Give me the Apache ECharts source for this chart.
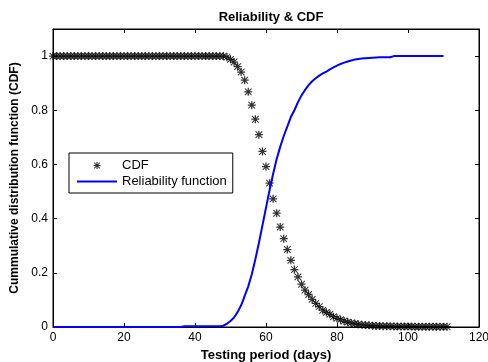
<!DOCTYPE html>
<html><head><meta charset="utf-8">
<script src="https://cdn.jsdelivr.net/npm/echarts@6/dist/echarts.min.js"></script>
<style>html,body{margin:0;padding:0;background:#fff}#c{width:488px;height:362px}</style>
</head><body><div id="c"></div>
<script>
// Star markers ("CDF" series), one per day 0..111
var cdfX = [];
for (var i = 0; i <= 111; i++) cdfX.push(i);
var cdfY = [
 1,1,1,1,1,1,1,1,1,1, 1,1,1,1,1,1,1,1,1,1,
 1,1,1,1,1,1,1,1,1,1, 1,1,1,1,1,1,1,1,1,1,
 1,1,1,1,1,1,1,1,1,0.996,
 0.988,0.978,0.961,0.941,0.911,0.868,0.819,0.767,0.71,0.648,
 0.592,0.531,0.473,0.42,0.369,0.326,0.286,0.246,0.212,0.185,
 0.158,0.136,0.12,0.102,0.087,0.075,0.062,0.054,0.047,0.038,
 0.032,0.027,0.022,0.018,0.015,0.012,0.01,0.008,0.007,0.006,
 0.005,0.004,0.004,0.003,0.003,0.003,0.002,0.002,0.002,0.002,
 0.002,0.002,0.001,0.001,0.001,0.001,0.001,0.001,0.001,0.001,
 0.001,0.001
];
// Reliability function line, one vertex per day 0..110
var relX = [];
for (var j = 0; j <= 110; j++) relX.push(j);
var relY = [
 0,0,0,0,0,0,0,0,0,0, 0,0,0,0,0,0,0,0,0,0,
 0,0,0,0,0,0,0,0,0,0, 0,0,0,0,0,0,0,0.003,0.003,0.003,
 0.003,0.003,0.003,0.003,0.003,0.003,0.003,0.003,0.005,0.012,
 0.022,0.035,0.055,0.08,0.115,0.15,0.195,0.25,0.31,0.375,
 0.44,0.505,0.565,0.62,0.665,0.705,0.74,0.775,0.80,0.83,
 0.855,0.875,0.893,0.907,0.918,0.928,0.936,0.943,0.951,0.958,
 0.965,0.971,0.976,0.98,0.984,0.987,0.989,0.991,0.992,0.993,
 0.994,0.995,0.996,0.996,0.996,0.996,1,1,1,1,
 1,1,1,1,1,1,1,1,1,1,
 1
];
var xTicks = [0,20,40,60,80,100,120];
var yTicks = [0,0.2,0.4,0.6,0.8,1];

var star = 'path://M42,0L58,0L58,100L42,100Z M0,42L100,42L100,58L0,58Z M13,4L96,87L87,96L4,13Z M87,4L96,13L13,96L4,87Z';
var lineIcon = 'path://M0,0L100,0L100,5L0,5Z';

var chart = echarts.init(document.getElementById('c'), null, {renderer:'canvas'});
var FONT = 'Liberation Sans, Arial, sans-serif';
function pairs(xs, ys){ return xs.map(function(x,k){return [x, ys[k]];}); }
var tick = {show:true, inside:true, length:4, lineStyle:{color:'#000', width:1}};
chart.setOption({
  animation:false,
  backgroundColor:'#fff',
  title:{text:'Reliability & CDF', left:266, textAlign:'center', top:6,
    textStyle:{fontFamily:FONT, fontSize:13, fontWeight:'bold', color:'#000'}},
  grid:{left:53, right:9, top:29, bottom:35, show:true, borderColor:'#000', borderWidth:1,
    backgroundColor:'transparent', containLabel:false, outerBoundsMode:'none'},
  legend:{orient:'vertical', left:69, top:153, padding:[6,6,5,8], itemGap:3,
    itemWidth:40, itemHeight:7, backgroundColor:'#fff', borderColor:'#000', borderWidth:1, borderRadius:0,
    symbolKeepAspect:true, z:10,
    textStyle:{fontFamily:FONT, fontSize:13, color:'#000'},
    data:[{name:'CDF'}, {name:'Reliability function', icon: lineIcon}]},
  xAxis:[{type:'value', min:0, max:120, interval:20, position:'bottom',
    name:'Testing period (days)', nameLocation:'middle', nameGap:20,
    nameTextStyle:{fontFamily:FONT, fontSize:13, fontWeight:'bold', color:'#000'},
    axisLine:{show:true, onZero:false, lineStyle:{color:'#000', width:1}},
    axisTick:tick,
    axisLabel:{margin:5, fontFamily:FONT, fontSize:12, color:'#000'},
    splitLine:{show:false}},
   {type:'value', min:0, max:120, interval:20, position:'top',
    axisLine:{show:true, onZero:false, lineStyle:{color:'#000', width:1}},
    axisTick:tick,
    axisLabel:{show:false}, splitLine:{show:false}}],
  yAxis:[{type:'value', min:0, max:1.1, interval:0.2, position:'left',
    name:'Cummulative distribution function (CDF)', nameLocation:'middle', nameGap:30,
    nameTextStyle:{fontFamily:FONT, fontSize:12, fontWeight:'bold', color:'#000'},
    axisLine:{show:true, onZero:false, lineStyle:{color:'#000', width:1}},
    axisTick:tick,
    axisLabel:{margin:5, fontFamily:FONT, fontSize:12, color:'#000',
      formatter:function(v){ return v > 1.05 ? '' : String(+v.toFixed(1)); }},
    splitLine:{show:false}},
   {type:'value', min:0, max:1.1, interval:0.2, position:'right',
    axisLine:{show:true, onZero:false, lineStyle:{color:'#000', width:1}},
    axisTick:tick,
    axisLabel:{show:false}, splitLine:{show:false}}],
  series:[
    {name:'CDF', type:'scatter', data:pairs(cdfX, cdfY), symbol:star, symbolSize:8,
     itemStyle:{color:'#000'}, z:2},
    {name:'Reliability function', type:'line', data:pairs(relX, relY), showSymbol:false, symbol:'none',
     lineStyle:{color:'#0000ff', width:2}, itemStyle:{color:'#0000ff'}, z:3},
    {name:'frame', type:'scatter', xAxisIndex:1, yAxisIndex:1, data:[], silent:true}
  ]
});
</script></body></html>
